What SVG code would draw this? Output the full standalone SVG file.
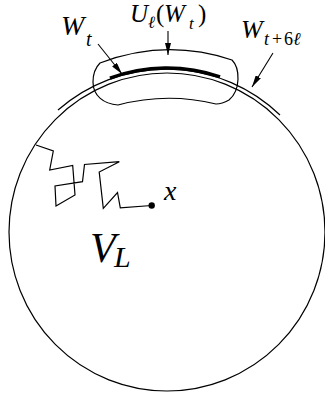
<svg xmlns="http://www.w3.org/2000/svg" width="325" height="398" viewBox="0 0 325 398">
<style>
.ln{fill:none;stroke:#000;stroke-width:1.2}
.ar{fill:none;stroke:#000;stroke-width:1.1;marker-end:url(#ah)}
.m{font-family:"Liberation Serif","DejaVu Serif",serif;font-style:italic;fill:#000}
.r{font-style:normal}
</style>
<defs>
<marker id="ah" viewBox="0 0 12 6" refX="12" refY="3" markerWidth="12" markerHeight="6" markerUnits="userSpaceOnUse" orient="auto">
<path d="M0,0 L12,3 L0,6 Z" fill="#000"/>
</marker>
</defs>
<g id="region-VL">
<ellipse class="ln" cx="167" cy="232" rx="158" ry="159"/>
</g>
<g id="boundary-Wt6l">
<path class="ln" d="M58,110 A164,164 0 0 1 280,115"/>
</g>
<g id="Wt">
<path d="M110,78.2 A164,164 0 0 1 220,76.8" fill="none" stroke="#000" stroke-width="3.5"/>
</g>
<g id="U-neighbourhood">
<path class="ln" d="M100,63 Q166,38 232,60 C240,68 241,90 229,100 Q222,104 216,104 Q167,92 118,105 C104,104 93,96 93,82 C93,73 96,67 100,63 Z"/>
</g>
<g id="walk">
<polyline class="ln" points="36,145 53.3,151 49.7,170 72.7,165.5 75,195 56,206 55,186 82.5,181.7 84.5,164.5 119.3,161.7 99.2,172 103.3,208.3 117.5,192.5 120.3,207.8 151.7,205.5"/>
<circle cx="151.7" cy="205.5" r="3.2" fill="#000"/>
</g>
<g id="connectors">
<line class="ar" x1="98" y1="44" x2="122" y2="74"/>
<line class="ar" x1="168" y1="31" x2="168" y2="55"/>
<line class="ar" x1="273" y1="53" x2="252" y2="87"/>
</g>
<g id="labels">
<text class="m" font-size="28" x="61" y="35">W</text>
<text class="m" font-size="20" x="86" y="46">t</text>
<text class="m" font-size="25" x="130" y="22">U</text>
<text class="m" font-size="17" x="148" y="28">ℓ</text>
<text class="m r" font-size="25" x="156" y="22">(</text>
<text class="m" font-size="25" x="164" y="22">W</text>
<text class="m" font-size="17" x="189" y="29">t</text>
<text class="m r" font-size="25" x="198" y="22">)</text>
<text class="m" font-size="26" x="241" y="38">W</text>
<text class="m" font-size="18" x="264" y="45">t</text>
<text class="m r" font-size="18" x="272" y="45">+</text>
<text class="m r" font-size="18" x="284" y="45">6</text>
<text class="m" font-size="18" x="293" y="45">ℓ</text>
<text class="m" font-size="28" x="164" y="200">x</text>
<text class="m" font-size="42" x="90" y="262">V</text>
<text class="m" font-size="30" x="114" y="267">L</text>
</g>
</svg>
